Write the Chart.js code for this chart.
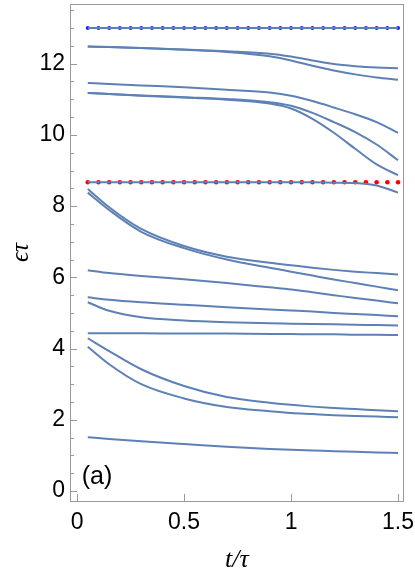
<!DOCTYPE html>
<html>
<head>
<meta charset="utf-8">
<script src="https://cdn.jsdelivr.net/npm/chart.js@4.4.1/dist/chart.umd.min.js"></script>
<style>
html, body { margin: 0; padding: 0; background: #fff; }
</style>
</head>
<body>
<canvas id="levelChart" width="415" height="576"></canvas>
<script>
// sample times shared by all curves
const times = [0.05, 0.15, 0.3, 0.5, 0.7, 0.9, 1.0, 1.1, 1.2, 1.3, 1.4, 1.5];

// energy levels, top to bottom
const level13  = [13.0, 13.0, 13.0, 13.0, 13.0, 13.0, 13.0, 13.0, 13.0, 13.0, 13.0, 13.0];
const level12a = [12.48, 12.47, 12.44, 12.40, 12.35, 12.28, 12.20, 12.09, 11.99, 11.93, 11.89, 11.87];
const level12b = [12.48, 12.47, 12.44, 12.39, 12.33, 12.21, 12.09, 11.94, 11.81, 11.70, 11.61, 11.55];
const level11a = [11.46, 11.43, 11.39, 11.34, 11.27, 11.19, 11.10, 10.95, 10.77, 10.58, 10.36, 10.06];
const level11b = [11.18, 11.15, 11.11, 11.06, 11.01, 10.92, 10.82, 10.62, 10.36, 10.08, 9.73, 9.29];
const level11c = [11.18, 11.15, 11.10, 11.05, 10.99, 10.88, 10.74, 10.45, 10.06, 9.61, 9.17, 8.87];
const level8a  = [8.67, 8.67, 8.67, 8.67, 8.67, 8.67, 8.67, 8.67, 8.66, 8.65, 8.58, 8.38];
const level8b  = [8.48, 7.97, 7.36, 6.88, 6.58, 6.41, 6.34, 6.27, 6.21, 6.16, 6.12, 6.08];
const level8c  = [8.38, 7.89, 7.28, 6.82, 6.50, 6.27, 6.16, 6.05, 5.94, 5.84, 5.74, 5.64];
const level6   = [6.20, 6.12, 6.04, 5.95, 5.84, 5.72, 5.66, 5.58, 5.50, 5.42, 5.35, 5.27];
const level5a  = [5.44, 5.37, 5.30, 5.23, 5.16, 5.10, 5.07, 5.04, 5.00, 4.97, 4.94, 4.91];
const level5b  = [5.30, 5.06, 4.88, 4.79, 4.74, 4.71, 4.70, 4.69, 4.68, 4.67, 4.66, 4.65];
const level4a  = [4.43, 4.43, 4.43, 4.42, 4.42, 4.41, 4.41, 4.40, 4.40, 4.39, 4.39, 4.38];
const level4b  = [4.29, 3.93, 3.42, 2.95, 2.64, 2.48, 2.42, 2.37, 2.33, 2.30, 2.27, 2.24];
const level4c  = [4.05, 3.56, 3.00, 2.60, 2.36, 2.24, 2.19, 2.16, 2.13, 2.11, 2.09, 2.07];
const level1   = [1.51, 1.46, 1.40, 1.32, 1.24, 1.18, 1.16, 1.14, 1.12, 1.10, 1.08, 1.07];

// reference points (dotted markers)
const dotTimes = [0.05, 0.1, 0.15, 0.2, 0.25, 0.3, 0.35, 0.4, 0.45, 0.5,
                  0.55, 0.6, 0.65, 0.7, 0.75, 0.8, 0.85, 0.9, 0.95, 1.0,
                  1.05, 1.1, 1.15, 1.2, 1.25, 1.3, 1.35, 1.4, 1.45, 1.5];
const blueDots = [13.0, 13.0, 13.0, 13.0, 13.0, 13.0, 13.0, 13.0, 13.0, 13.0,
                  13.0, 13.0, 13.0, 13.0, 13.0, 13.0, 13.0, 13.0, 13.0, 13.0,
                  13.0, 13.0, 13.0, 13.0, 13.0, 13.0, 13.0, 13.0, 13.0, 13.0];
const redDots  = [8.67, 8.67, 8.67, 8.67, 8.67, 8.67, 8.67, 8.67, 8.67, 8.67,
                  8.67, 8.67, 8.67, 8.67, 8.67, 8.67, 8.67, 8.67, 8.67, 8.67,
                  8.67, 8.67, 8.67, 8.67, 8.67, 8.67, 8.67, 8.67, 8.67, 8.67];

// axis ticks
const xTicks = [0, 0.5, 1, 1.5];
const xTickLabels = ['0', '0.5', '1', '1.5'];
const yTicks = [0, 2, 4, 6, 8, 10, 12];

const curveColor = '#5e81b5';
const frameColor = '#9a9a9a';

const curves = [level13, level12a, level12b, level11a, level11b, level11c, level8a,
                level8b, level8c, level6, level5a, level5b, level4a, level4b, level4c, level1];

function toPoints(xs, ys) {
    return xs.map((x, i) => ({ x: x, y: ys[i] }));
}

const datasets = curves.map(vals => ({
    data: toPoints(times, vals),
    borderColor: curveColor,
    borderWidth: 2,
    pointRadius: 0,
    fill: false,
    cubicInterpolationMode: 'monotone',
    order: 0
}));

datasets.push({
    data: toPoints(dotTimes, blueDots),
    showLine: false,
    pointRadius: 2,
    pointBorderWidth: 0,
    pointBackgroundColor: '#1a1aff',
    order: 1
});
datasets.push({
    data: toPoints(dotTimes, redDots),
    showLine: false,
    pointRadius: 2.3,
    pointBorderWidth: 0,
    pointBackgroundColor: '#ff0000',
    order: 1
});

// frame, inward ticks and panel label
const framePlugin = {
    id: 'frame',
    beforeDatasetsDraw(chart) {
        const { ctx, chartArea: a, scales } = chart;
        ctx.save();
        ctx.strokeStyle = frameColor;
        ctx.lineWidth = 1;
        ctx.strokeRect(a.left + 0.5, a.top + 0.5, a.right - a.left - 1, a.bottom - a.top);

        ctx.beginPath();
        xTicks.forEach(v => {
            const px = Math.round(scales.x.getPixelForValue(v)) + 0.5;
            ctx.moveTo(px, a.bottom);
            ctx.lineTo(px, a.bottom - 7);
        });
        for (let v = 0; v <= 13.5; v += 0.5) {
            const py = Math.round(scales.y.getPixelForValue(v)) + 0.5;
            const len = yTicks.includes(v) ? 7 : 4;
            ctx.moveTo(a.left, py);
            ctx.lineTo(a.left + len, py);
        }
        ctx.stroke();
        ctx.restore();
    },
    afterDraw(chart) {
        const { ctx, scales } = chart;
        ctx.save();
        ctx.fillStyle = '#000';
        ctx.font = '25px "Liberation Sans", Arial, sans-serif';
        ctx.textBaseline = 'middle';
        ctx.fillText('(a)', scales.x.getPixelForValue(0.022), scales.y.getPixelForValue(0.39));
        ctx.restore();
    }
};

new Chart(document.getElementById('levelChart'), {
    type: 'line',
    data: { datasets: datasets },
    options: {
        responsive: false,
        animation: false,
        events: [],
        layout: { padding: { top: 1, right: 11, left: 0, bottom: 0 } },
        plugins: { legend: { display: false }, tooltip: { enabled: false } },
        scales: {
            x: {
                type: 'linear',
                min: -0.033,
                max: 1.528,
                grid: { display: false, drawTicks: false },
                border: { display: false },
                afterBuildTicks: scale => { scale.ticks = xTicks.map(v => ({ value: v })); },
                afterFit: scale => {
                    scale.height = 75;
                    scale.paddingLeft = 0;
                    scale.paddingRight = 0;
                },
                ticks: {
                    color: '#000',
                    padding: 8,
                    maxRotation: 0,
                    font: { family: '"Liberation Sans", Arial, sans-serif', size: 23 },
                    callback: (v) => xTickLabels[xTicks.indexOf(v)]
                },
                title: {
                    display: true,
                    text: 't/τ',
                    color: '#000',
                    padding: { bottom: 0 },
                    font: { family: '"Liberation Serif", "DejaVu Serif", serif', size: 26, style: 'italic' }
                }
            },
            y: {
                type: 'linear',
                min: -0.28,
                max: 13.676,
                grid: { display: false, drawTicks: false },
                border: { display: false },
                afterBuildTicks: scale => { scale.ticks = yTicks.map(v => ({ value: v })); },
                afterFit: scale => {
                    scale.width = 70;
                    scale.paddingTop = 0;
                    scale.paddingBottom = 0;
                },
                ticks: {
                    color: '#000',
                    padding: 5,
                    font: { family: '"Liberation Sans", Arial, sans-serif', size: 23 },
                    callback: (v) => String(v)
                },
                title: {
                    display: true,
                    text: 'ϵτ',
                    color: '#000',
                    padding: { top: 6 },
                    font: { family: '"Liberation Serif", "DejaVu Serif", serif', size: 25, style: 'italic' }
                }
            }
        }
    },
    plugins: [framePlugin]
});
</script>
</body>
</html>
